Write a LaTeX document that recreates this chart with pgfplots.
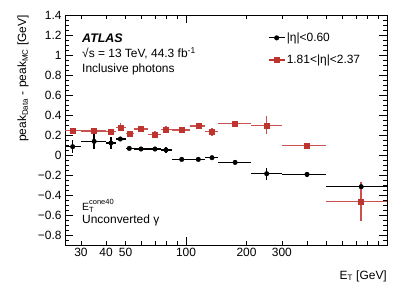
\documentclass[border=0pt]{standalone}
\usepackage{fontspec}
\setmainfont{Liberation Sans}
\usepackage{pgfplots}
\pgfplotsset{compat=1.18}
\usepackage{pgfplotstable}
\definecolor{atlred}{RGB}{192,52,48}

\pgfplotstableread{
x y xm xp ey
27.3 0.083 2.3 2.7 0.065
34.9 0.136 4.9 5.1 0.08
42.3 0.12 2.3 2.7 0.06
47.1 0.16 2.1 2.9 0.02
52.2 0.066 2.2 2.8 0.015
59.7 0.06 4.7 5.3 0.015
70.1 0.06 5.1 4.9 0.02
79.5 0.05 4.5 5.5 0.03
95.2 -0.044 10.2 9.8 0.02
115.1 -0.044 10.1 9.9 0.02
134.7 -0.027 9.7 10.3 0.015
175.5 -0.074 30.5 34.5 0.02
252 -0.187 42 48 0.06
400 -0.194 100 100 0.025
744 -0.317 244 256 0.04
}\blackdata

\pgfplotstableread{
x y xm xp ey
27.3 0.243 2.3 2.7 0.015
34.9 0.24 4.9 5.1 0.015
42.3 0.236 2.3 2.7 0.02
47.1 0.276 2.1 2.9 0.04
52.2 0.216 2.2 2.8 0.02
59.7 0.26 4.7 5.3 0.02
70.1 0.206 5.1 4.9 0.03
79.5 0.256 4.5 5.5 0.03
95.2 0.25 10.2 9.8 0.02
115.1 0.29 10.1 9.9 0.03
134.7 0.233 9.7 10.3 0.04
175.5 0.313 30.5 34.5 0.02
252 0.296 42 48 0.09
400 0.093 100 100 0.03
744 -0.467 244 256 0.195
}\reddata

\begin{document}
\begin{tikzpicture}
\path[use as bounding box] (0,0) rectangle (407bp,292bp);
\begin{axis}[
  at={(65bp,47bp)}, anchor=south west, scale only axis,
  width=322bp, height=230bp,
  xmode=log, xmin=25, xmax=1000, ymin=-0.9, ymax=1.4,
  font=\fontsize{12}{14}\selectfont,
  axis line style={line width=0.8bp},
  tick align=inside, major tick length=8bp, minor tick length=4bp,
  tick style={line width=0.6bp, black},
  xtick={100}, xticklabels={100},
  extra x ticks={30,40,50,200,300},
  extra x tick labels={30,40,50,200,300},
  extra x tick style={major tick length=4bp},
  minor xtick={60,70,80,90,400,500,600,700,800,900},
  ytick={-0.8,-0.6,-0.4,-0.2,0,0.2,0.4,0.6,0.8,1,1.2,1.4},
  yticklabels={−0.8,−0.6,−0.4,−0.2,0,0.2,0.4,0.6,0.8,1,1.2,1.4},
  minor ytick={-0.85,-0.75,-0.7,-0.65,-0.55,-0.5,-0.45,-0.35,-0.3,-0.25,-0.15,-0.1,-0.05,0.05,0.1,0.15,0.25,0.3,0.35,0.45,0.5,0.55,0.65,0.7,0.75,0.85,0.9,0.95,1.05,1.1,1.15,1.25,1.3,1.35},
  xlabel={E\textsubscript{T} [GeV]},
  ylabel={peak\textsubscript{Data} - peak\textsubscript{MC} [GeV]},
  every axis x label/.style={at={(rel axis cs:1,0)}, anchor=base east, yshift=-34bp, inner sep=0pt},
  every axis y label/.style={at={(rel axis cs:0,1)}, xshift=-39bp, rotate=90, anchor=base east, inner sep=0pt},
  legend style={at={(rel axis cs:0.63,0.93)}, anchor=north west, draw=none, fill=none,
    inner sep=0pt, row sep=9bp, font=\fontsize{12}{14}\selectfont,
    nodes={inner sep=1.5bp}},
  legend cell align=left,
  legend image code/.code={%
    \draw[#1, mark=none, line width=1.2bp] (0bp,0bp) -- (16bp,0bp);
    \draw[#1, only marks] plot coordinates {(8bp,0bp)};
  },
]
\addplot[black, only marks, mark=*, mark size=2.3bp,
  error bars/.cd, x dir=both, x explicit, y dir=both, y explicit,
  error mark=none, error bar style={line width=1.5bp, black}]
  table[x=x, y=y, x error minus=xm, x error plus=xp, y error=ey]{\blackdata};
\addlegendentry{|η|<0.60}
\addplot[atlred, only marks, mark=square*, mark size=2.5bp,
  error bars/.cd, x dir=both, x explicit, y dir=both, y explicit,
  error mark=none, error bar style={line width=1.5bp, atlred!85!white}]
  table[x=x, y=y, x error minus=xm, x error plus=xp, y error=ey]{\reddata};
\addlegendentry{1.81<|η|<2.37}
\end{axis}
\begin{scope}[every node/.style={inner sep=0pt, anchor=base west, font=\fontsize{12}{14}\selectfont}]
\node[font=\fontsize{12.5}{14}\selectfont\bfseries\itshape] at (82bp,249.7bp) {ATLAS};
\node at (82bp,234bp) {√s = 13 TeV, 44.3 fb\raisebox{4.5bp}{\fontsize{8.5}{9}\selectfont -1}};
\node at (82bp,219.3bp) {Inclusive photons};
\node[font=\fontsize{10.5}{12}\selectfont] at (82bp,81.5bp) {E\makebox[0pt][l]{\raisebox{5.5bp}{\fontsize{7.5}{8}\selectfont cone40}}\raisebox{-2.2bp}{\fontsize{7.5}{8}\selectfont T}};
\node at (82bp,68.7bp) {Unconverted γ};
\end{scope}
\end{tikzpicture}
\end{document}
